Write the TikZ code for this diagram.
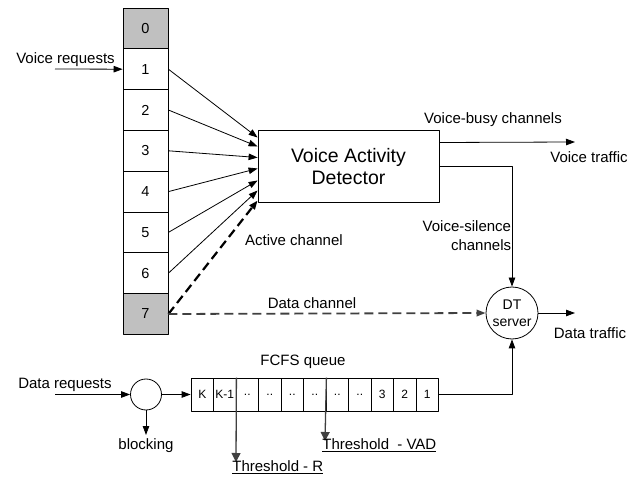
\documentclass[tikz,border=0pt]{standalone}
\usepackage{fontspec}
\setmainfont{Liberation Sans}
\usetikzlibrary{arrows.meta}
\definecolor{cellgray}{RGB}{192,192,192}
\definecolor{linegray}{RGB}{64,64,64}

\begin{document}
\begin{tikzpicture}[x=1pt, y=-1pt, line width=0.8pt, line join=round,
  txt/.style={inner sep=0pt, font=\fontsize{15}{19}\selectfont},
  cell/.style={draw, minimum width=45pt, minimum height=40.8pt, inner sep=0pt, font=\fontsize{14.5}{17}\selectfont},
  qcell/.style={draw, minimum width=22.5pt, minimum height=33pt, inner sep=0pt, font=\fontsize{12}{14}\selectfont},
  arr/.style={-{Triangle[length=9pt,width=6.5pt]}},
  thr arr/.style={-{Triangle[length=9pt,width=9pt]}, draw=linegray, fill=linegray, line width=1.3pt},
  thick dash/.style={dash pattern=on 9pt off 5pt, line width=2.2pt},
  thin dash/.style={dash pattern=on 9pt off 5pt, line width=1.8pt, draw=linegray}]

  %% ════ channel column ════
  \foreach \i/\f in {0/cellgray,1/white,2/white,3/white,4/white,5/white,6/white,7/cellgray}
    \node[cell, fill=\f] (c\i) at (145.5,{28.4+40.8*\i}) {\i};

  %% ════ blocks ════
  \node[draw, minimum width=181pt, minimum height=72pt, align=center,
        font=\fontsize{19.5}{22}\selectfont] (vad) at (348.5,166.5) {Voice Activity\\Detector};
  \node[draw, circle, minimum size=52pt, inner sep=0pt, align=center,
        font=\fontsize{14}{17}\selectfont] (dt) at (512,313) {DT\\server};
  \node[draw, circle, minimum size=31pt, inner sep=0pt] (blk) at (146,394.5) {};

  %% ════ FCFS queue ════
  \foreach \t [count=\k] in {K,K-1,..,..,..,..,..,..,3,2,1}
    \node[qcell] (q\k) at ({191+22.5*(\k-0.5)},394.5) {\t};

  %% ════ free ends ════
  \coordinate (vin) at (55,69);
  \coordinate (din) at (55,394.5);
  \coordinate (vt) at (575,142);
  \coordinate (dout) at (575,313);
  \coordinate (bout) at (146,435);
  \coordinate (thr) at (236,462);
  \coordinate (thv) at (325,441);

  %% ════ connectors ════
  \draw[arr] (vin) -- (c1.west);
  \draw[arr] (c1.east) -- ([yshift=29pt]vad.west);
  \draw[arr] (c2.east) -- ([yshift=20pt]vad.west);
  \draw[arr] (c3.east) -- ([yshift=9pt]vad.west);
  \draw[arr] (c4.east) -- ([yshift=-2pt]vad.west);
  \draw[arr] (c5.east) -- ([yshift=-14pt]vad.west);
  \draw[arr] (c6.east) -- ([yshift=-24pt]vad.west);
  \draw[arr, thick dash] (c7.east) -- ([yshift=-34pt]vad.west);
  \draw[arr, thin dash] (c7.east) -- (dt.west);
  \draw[arr] ([yshift=24pt]vad.east) -- (vt);
  \draw[arr] (vad.east) -| (dt.north);
  \draw[arr] (dt.east) -- (dout);
  \draw[arr] (q11.east) -| (dt.south);
  \draw[arr] (din) -- (blk.west);
  \draw[arr] (blk.east) -- (q1.west);
  \draw[arr] (blk.south) -- (bout);
  \draw[thr arr] (q2.north east) -- (thr);
  \draw[thr arr] (q6.north east) -- (thv);

  %% ════ labels ════
  \node[txt] (lvr) at (65.5,60) {Voice requests};
  \node[txt] (lvb) at (493,120) {Voice-busy channels};
  \node[txt] (lvt) at (589,157) {Voice traffic};
  \node[txt, anchor=east, align=right] (lvs) at (511.5,235.5) {Voice-silence\\channels};
  \node[txt] (lac) at (294,240) {Active channel};
  \node[txt] (ldc) at (312,303) {Data channel};
  \node[txt] (ldt) at (590,333) {Data traffic};
  \node[txt] (lfq) at (303,362) {FCFS queue};
  \node[txt] (ldr) at (65,385) {Data requests};
  \node[txt] (lbk) at (146,446) {blocking};
  \node[txt, anchor=west] (lthr) at (232,467) {\underline{Threshold - R}};
  \node[txt, anchor=west] (lthv) at (322,445) {\underline{Threshold\ \ - VAD}};

  \pgfresetboundingbox
  \path[use as bounding box] (0,0) rectangle (640,478);
\end{tikzpicture}
\end{document}
